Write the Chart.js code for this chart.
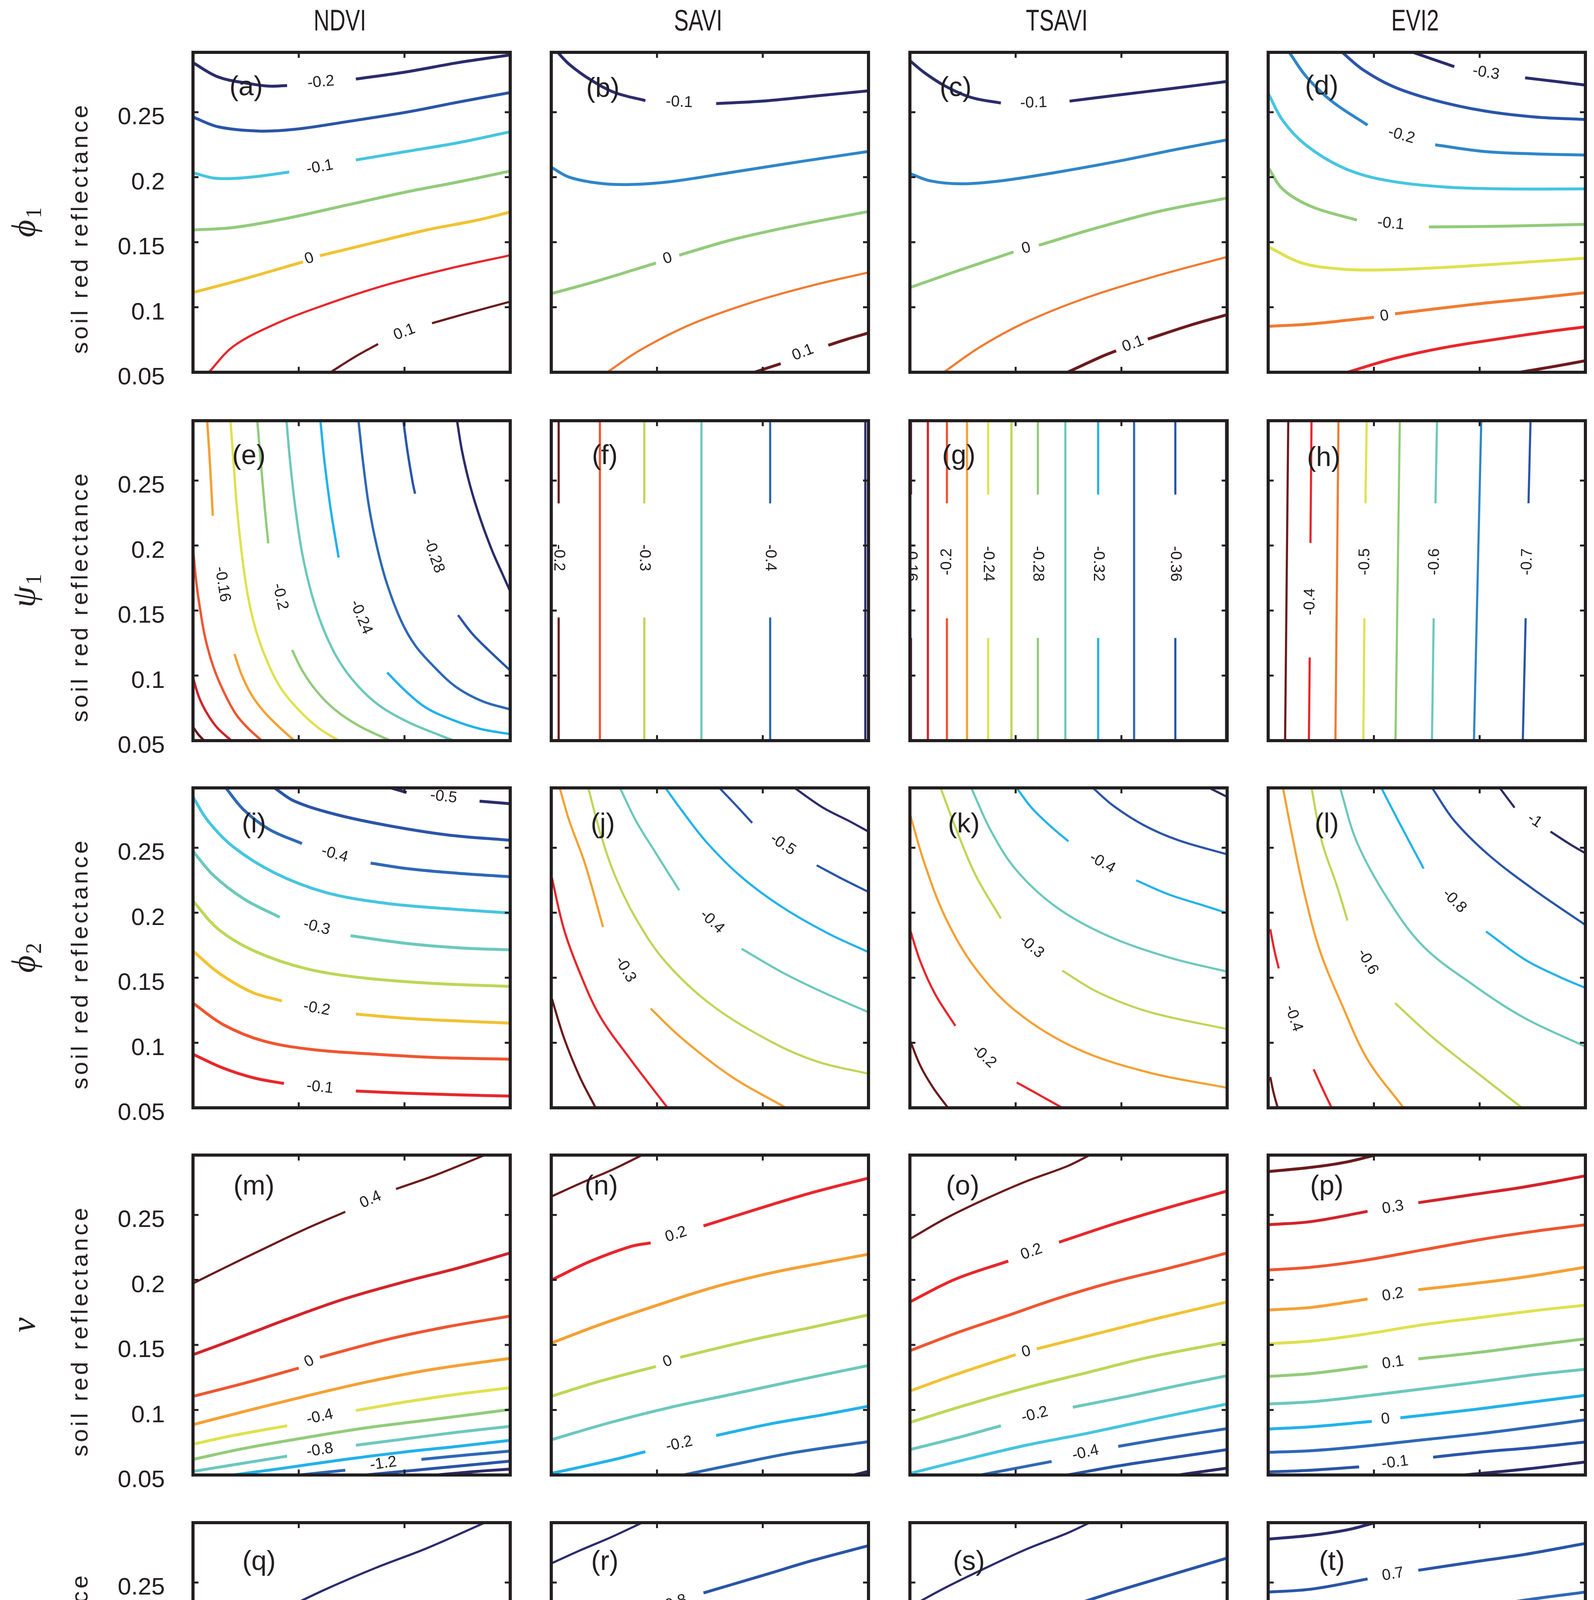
<!DOCTYPE html>
<html>
<head>
<meta charset="utf-8">
<title>Contour sensitivity of vegetation indices</title>
<script src="https://cdn.jsdelivr.net/npm/chart.js"></script>
<style>
html,body{margin:0;padding:0;background:#ffffff;}
body{width:4080px;height:4993px;position:relative;overflow:hidden;font-family:"Liberation Sans",Arial,sans-serif;color:#231f20;}
canvas{position:absolute;}
.t{position:absolute;white-space:nowrap;line-height:1;color:#231f20;}
</style>
</head>
<body>
<script>
// ---------------- DATA ----------------
const columnTitles = ['NDVI', 'SAVI', 'TSAVI', 'EVI2'];
const rowSymbolPrefix = ['', '', '', '', '1 \u2212 '];
const rowSymbolVar = ['\u03D5', '\u03C8', '\u03D5', '\u03BD', '\u03BD'];
const rowSymbolSub = ['1', '1', '2', '', ''];
const yAxisTitle = 'soil red reflectance';
const xAxisTitle = 'LAI';
const xTickValues = [1, 2, 3, 4];
const xTickLabels = ['1', '2', '3', '4'];
const yTickValues = [0.05, 0.1, 0.15, 0.2, 0.25];
const yTickLabels = ['0.05', '0.1', '0.15', '0.2', '0.25'];
const xRange = [1, 4];
const yRange = [0.05, 0.296];
const panelLetters = ['a','b','c','d','e','f','g','h','i','j','k','l','m','n','o','p','q','r','s','t'];

// contour lines: each contour = list of visible pieces, each piece = [LAI, soil red reflectance] points
const contoursA = [
 [[[1.0,0.288],[1.24,0.277],[1.53,0.272],[1.72,0.270],[1.89,0.2705]],[[2.54,0.2755],[3.02,0.281],[3.5,0.288],[4.0,0.294]]],
 [[[1.0,0.2462],[1.24,0.2387],[1.62,0.2355],[1.96,0.2368],[2.44,0.2425],[3.02,0.25],[3.5,0.2576],[4.0,0.2651]]],
 [[[1.0,0.2034],[1.2,0.1993],[1.4,0.1991],[1.65,0.201],[1.91,0.204]],[[2.54,0.2132],[3.02,0.2198],[3.5,0.2264],[4.0,0.2349]]],
 [[[1.0,0.1594],[1.38,0.1613],[1.86,0.1679],[2.44,0.1783],[3.02,0.1887],[3.5,0.1962],[4.0,0.2047]]],
 [[[1.0,0.1113],[1.48,0.1217],[2.04,0.1349]],[[2.2,0.1396],[2.63,0.1481],[3.21,0.1594],[3.69,0.167],[4.0,0.1732]]],
 [[[1.15,0.05],[1.38,0.0698],[1.77,0.0868],[2.25,0.1019],[2.82,0.117],[3.4,0.1293],[4.0,0.14]]],
 [[[2.3,0.05],[2.54,0.0623],[2.75,0.0717]],[[3.26,0.0877],[3.59,0.0953],[4.0,0.1043]]]
];
const labelsA = [[0,2.21,0.273,'-0.2'],[2,2.2,0.2076,'-0.1'],[4,2.1,0.1374,'0'],[6,3.0,0.0808,'0.1']];

const contoursB = [
 [[[1.06,0.296],[1.17,0.2868],[1.36,0.2755],[1.6,0.2651],[1.89,0.2589]],[[2.56,0.2566],[3.0,0.2585],[3.48,0.2623],[4.0,0.2664]]],
 [[[1.0,0.2076],[1.17,0.2],[1.46,0.1953],[1.75,0.1944],[2.13,0.1966],[2.71,0.2038],[3.38,0.2123],[4.0,0.2198]]],
 [[[1.0,0.1104],[1.46,0.1208],[1.99,0.134]],[[2.21,0.14],[2.71,0.1519],[3.28,0.1623],[4.0,0.1736]]],
 [[[1.53,0.05],[1.84,0.067],[2.32,0.0868],[2.9,0.1038],[3.48,0.117],[4.0,0.1268]]],
 [[[2.92,0.05],[3.17,0.0566]],[[3.62,0.0708],[3.8,0.0755],[4.0,0.0802]]]
];
const labelsB = [[0,2.21,0.2576,'-0.1'],[2,2.1,0.1374,'0'],[4,3.38,0.0651,'0.1']];

const contoursC = [
 [[[1.0,0.2896],[1.14,0.2802],[1.34,0.2698],[1.58,0.2613],[1.86,0.257]],[[2.51,0.2585],[2.97,0.2632],[3.45,0.2679],[4.0,0.2736]]],
 [[[1.0,0.2028],[1.19,0.1972],[1.48,0.1949],[1.86,0.1972],[2.39,0.2038],[2.97,0.2123],[3.54,0.2217],[4.0,0.2287]]],
 [[[1.0,0.1151],[1.43,0.1274],[1.98,0.1425]],[[2.22,0.1477],[2.78,0.1613],[3.35,0.1736],[4.0,0.184]]],
 [[[1.32,0.05],[1.67,0.0698],[2.1,0.0887],[2.68,0.1076],[3.35,0.1245],[4.0,0.1387]]],
 [[[2.49,0.05],[2.82,0.0623],[2.95,0.0665]],[[3.25,0.0755],[3.64,0.0859],[4.0,0.0943]]]
];
const labelsC = [[0,2.17,0.257,'-0.1'],[2,2.1,0.1453,'0'],[4,3.11,0.0717,'0.1']];

const contoursD = [
 [[[2.37,0.296],[2.56,0.2906],[2.76,0.285]],[[3.43,0.2764],[3.72,0.2736],[4.0,0.2708]]],
 [[[1.7,0.296],[1.89,0.283],[2.18,0.2698],[2.56,0.2595],[3.04,0.251],[3.52,0.2463],[4.0,0.2444]]],
 [[[1.2,0.296],[1.36,0.2774],[1.6,0.2585],[1.94,0.24]],[[2.58,0.2249],[3.04,0.2198],[3.52,0.2179],[4.0,0.217]]],
 [[[1.0,0.2645],[1.14,0.2434],[1.36,0.2245],[1.7,0.2076],[2.08,0.1981],[2.66,0.1925],[3.24,0.191],[4.0,0.191]]],
 [[[1.0,0.2075],[1.14,0.1906],[1.41,0.1774],[1.84,0.167]],[[2.52,0.1617],[3.24,0.1623],[4.0,0.1638]]],
 [[[1.0,0.1465],[1.32,0.134],[1.7,0.1293],[2.08,0.1287],[2.66,0.1306],[3.24,0.1336],[4.0,0.1377]]],
 [[[1.0,0.0853],[1.41,0.0872],[2.0,0.0923]],[[2.2,0.095],[2.95,0.1023],[3.52,0.107],[4.0,0.1112]]],
 [[[1.75,0.05],[2.18,0.0604],[2.66,0.0689],[3.24,0.0764],[3.72,0.0821],[4.0,0.0849]]],
 [[[3.38,0.05],[3.72,0.0547],[4.0,0.0589]]]
];
const labelsD = [[0,3.06,0.2802,'-0.3'],[2,2.26,0.2321,'-0.2'],[4,2.16,0.1642,'-0.1'],[6,2.1,0.0932,'0']];

const contoursE = [
 [[[1.0,0.0606],[1.048,0.055],[1.105,0.05]]],
 [[[1.0,0.0984],[1.057,0.0834],[1.134,0.0708],[1.23,0.0598],[1.363,0.05]]],
 [[[1.0,0.1986],[1.029,0.1733],[1.067,0.1512],[1.115,0.1292],[1.191,0.1071],[1.287,0.0882],[1.402,0.0708],[1.517,0.0598],[1.65,0.05]]],
 [[[1.134,0.296],[1.153,0.2727],[1.172,0.2459],[1.187,0.223]],[[1.392,0.1166],[1.459,0.1008],[1.555,0.085],[1.67,0.0724],[1.803,0.0614],[1.957,0.05]]],
 [[[1.354,0.296],[1.383,0.2648],[1.411,0.2332],[1.459,0.1954],[1.517,0.1623],[1.593,0.1355],[1.689,0.1134],[1.823,0.0913],[1.995,0.074],[2.186,0.0598],[2.377,0.05]]],
 [[[1.608,0.296],[1.641,0.2648],[1.679,0.2285],[1.712,0.2017]],[[1.937,0.1197],[2.033,0.1039],[2.167,0.0882],[2.339,0.074],[2.569,0.0614],[2.865,0.05]]],
 [[[1.884,0.296],[1.918,0.2648],[1.966,0.2301],[2.033,0.1938],[2.129,0.1607],[2.243,0.1339],[2.377,0.1118],[2.55,0.0929],[2.76,0.0771],[3.028,0.0645],[3.353,0.0535],[3.468,0.05]]],
 [[[2.205,0.296],[2.243,0.2648],[2.301,0.2285],[2.377,0.1907]],[[2.836,0.1024],[3.009,0.0882],[3.2,0.0755],[3.449,0.0661],[3.717,0.059],[4.0,0.055]]],
 [[[2.565,0.296],[2.607,0.2648],[2.664,0.2301],[2.741,0.1986],[2.836,0.1702],[2.97,0.1418],[3.104,0.1229],[3.276,0.1071],[3.487,0.0913],[3.736,0.0803],[4.0,0.074]]],
 [[[2.989,0.296],[3.028,0.2727],[3.076,0.249],[3.1,0.2399]],[[3.506,0.1465],[3.64,0.1323],[3.793,0.1197],[4.0,0.1039]]],
 [[[3.497,0.296],[3.544,0.2727],[3.621,0.2459],[3.717,0.2206],[3.832,0.1954],[3.927,0.178],[4.0,0.1647]]]
];
const labelsE = [[3,1.277,0.1702,'-0.16'],[5,1.823,0.1607,'-0.2'],[7,2.588,0.1449,'-0.24'],[9,3.276,0.1922,'-0.28']];

const contoursF = [
 [[[1.07,0.296],[1.07,0.2324]],[[1.07,0.1447],[1.07,0.05]]],
 [[[1.46,0.296],[1.46,0.05]]],
 [[[1.88,0.296],[1.88,0.2324]],[[1.88,0.1447],[1.88,0.05]]],
 [[[2.42,0.296],[2.42,0.05]]],
 [[[3.07,0.296],[3.07,0.2324]],[[3.07,0.1447],[3.07,0.05]]],
 [[[3.97,0.296],[3.97,0.05]]]
];
const labelsF = [[0,1.07,0.1906,'-0.2'],[2,1.88,0.1906,'-0.3'],[4,3.07,0.1906,'-0.4']];

const contoursG = [
 [[[1.01,0.296],[1.01,0.2392]],[[1.01,0.1289],[1.01,0.05]]],
 [[[1.17,0.296],[1.17,0.05]]],
 [[[1.35,0.05],[1.35,0.1441]],[[1.35,0.2325],[1.35,0.296]]],
 [[[1.54,0.296],[1.54,0.05]]],
 [[[1.74,0.296],[1.74,0.2392]],[[1.74,0.1289],[1.74,0.05]]],
 [[[1.96,0.296],[1.96,0.05]]],
 [[[2.21,0.296],[2.21,0.2392]],[[2.21,0.1289],[2.21,0.05]]],
 [[[2.47,0.296],[2.47,0.05]]],
 [[[2.78,0.296],[2.78,0.2392]],[[2.78,0.1289],[2.78,0.05]]],
 [[[3.12,0.296],[3.12,0.05]]],
 [[[3.51,0.296],[3.51,0.2392]],[[3.51,0.1289],[3.51,0.05]]],
 [[[3.99,0.296],[3.99,0.05]]]
];
const labelsG = [[0,1.01,0.186,'-0.16'],[2,1.35,0.1875,'-0.2'],[4,1.74,0.186,'-0.24'],[6,2.21,0.186,'-0.28'],[8,2.78,0.186,'-0.32'],[10,3.51,0.186,'-0.36']];

const contoursH = [
 [[[1.16,0.05],[1.19,0.296]]],
 [[[1.385,0.05],[1.393,0.1139]],[[1.40,0.202],[1.41,0.296]]],
 [[[1.636,0.05],[1.665,0.296]]],
 [[[1.90,0.05],[1.91,0.1441]],[[1.92,0.2325],[1.932,0.296]]],
 [[[2.204,0.05],[2.245,0.296]]],
 [[[2.549,0.05],[2.565,0.1441]],[[2.582,0.2325],[2.597,0.296]]],
 [[[2.946,0.05],[3.015,0.296]]],
 [[[3.408,0.05],[3.435,0.1441]],[[3.462,0.2325],[3.481,0.296]]]
];
const labelsH = [[1,1.397,0.1568,'-0.4'],[3,1.915,0.1875,'-0.5'],[5,2.573,0.1875,'-0.6'],[7,3.45,0.1875,'-0.7']];

const contoursI = [
 [[[2.87,0.296],[3.02,0.2925]],[[3.71,0.2858],[4.0,0.2838]]],
 [[[1.77,0.296],[1.96,0.2858],[2.34,0.2758],[2.82,0.2674],[3.4,0.2599],[4.0,0.2557]]],
 [[[1.31,0.296],[1.48,0.2791],[1.72,0.2641],[2.03,0.2532]],[[2.68,0.2382],[3.02,0.234],[3.5,0.2304],[4.0,0.2277]]],
 [[[1.0,0.2891],[1.14,0.2708],[1.38,0.2507],[1.77,0.2307],[2.25,0.2157],[2.82,0.2073],[3.4,0.2031],[4.0,0.1998]]],
 [[[1.0,0.2474],[1.19,0.229],[1.48,0.2107],[1.82,0.1965]],[[2.49,0.1823],[3.02,0.1764],[3.5,0.1731],[4.0,0.1714]]],
 [[[1.0,0.209],[1.24,0.1873],[1.58,0.1706],[2.06,0.1572],[2.63,0.1497],[3.3,0.1455],[4.0,0.1434]]],
 [[[1.0,0.1706],[1.24,0.1539],[1.56,0.1388],[1.84,0.1322]],[[2.54,0.1221],[3.02,0.1188],[3.5,0.1168],[4.0,0.1151]]],
 [[[1.0,0.1305],[1.29,0.1138],[1.67,0.1013],[2.15,0.0946],[2.73,0.0912],[3.3,0.0887],[4.0,0.0874]]],
 [[[1.0,0.0912],[1.29,0.0804],[1.58,0.0729],[1.86,0.0687]],[[2.54,0.0629],[3.02,0.0612],[3.5,0.06],[4.0,0.059]]]
];
const labelsI = [[0,3.37,0.2891,'-0.5'],[2,2.34,0.2449,'-0.4'],[4,2.17,0.1889,'-0.3'],[6,2.17,0.1263,'-0.2'],[8,2.2,0.0657,'-0.1']];

const contoursJ = [
 [[[3.3,0.296],[3.57,0.2808],[3.81,0.2708],[4.0,0.2624]]],
 [[[2.59,0.296],[2.73,0.2841],[2.9,0.2691]],[[3.51,0.2365],[3.76,0.2257],[4.0,0.216]]],
 [[[2.08,0.296],[2.23,0.2791],[2.47,0.2541],[2.8,0.2274],[3.19,0.204],[3.62,0.184],[4.0,0.1697]]],
 [[[1.65,0.296],[1.8,0.2708],[1.99,0.2457],[2.21,0.2173]],[[2.8,0.1723],[3.19,0.1539],[3.57,0.1388],[4.0,0.1235]]],
 [[[1.35,0.296],[1.46,0.2624],[1.6,0.229],[1.8,0.1956],[2.08,0.1623],[2.52,0.1288],[3.09,0.1004],[3.52,0.0854],[4.0,0.0762]]],
 [[[1.08,0.296],[1.17,0.2708],[1.32,0.2374],[1.49,0.189]],[[1.94,0.1263],[2.23,0.1038],[2.71,0.0737],[3.22,0.05]]],
 [[[1.0,0.229],[1.12,0.1873],[1.27,0.1539],[1.46,0.1205],[1.75,0.0871],[2.1,0.05]]],
 [[[1.0,0.1355],[1.12,0.1038],[1.27,0.0737],[1.42,0.05]]]
];
const labelsJ = [[1,3.19,0.2524,'-0.5'],[3,2.52,0.1931,'-0.4'],[5,1.7,0.1564,'-0.3']];

const contoursK = [
 [[[3.83,0.296],[4.0,0.2891]]],
 [[[2.73,0.296],[2.92,0.2825],[3.21,0.2674],[3.54,0.2557],[4.0,0.2449]]],
 [[[2.01,0.296],[2.15,0.2808],[2.34,0.2658],[2.5,0.2549]],[[3.14,0.2249],[3.45,0.214],[3.74,0.2065],[4.0,0.1998]]],
 [[[1.58,0.296],[1.77,0.2624],[2.01,0.2324],[2.39,0.204],[2.87,0.1823],[3.45,0.1656],[4.0,0.1547]]],
 [[[1.29,0.296],[1.43,0.2658],[1.62,0.229],[1.86,0.1956]],[[2.44,0.1555],[2.78,0.1388],[3.26,0.1238],[4.0,0.1105]]],
 [[[1.0,0.276],[1.14,0.2374],[1.34,0.1956],[1.62,0.1572],[2.01,0.1238],[2.58,0.0954],[3.26,0.0771],[4.0,0.0654]]],
 [[[1.0,0.1873],[1.1,0.1622],[1.24,0.1372],[1.43,0.113]],[[2.01,0.0695],[2.25,0.0587],[2.44,0.05]]],
 [[[1.0,0.1021],[1.1,0.0821],[1.22,0.0654],[1.36,0.05]]]
];
const labelsK = [[2,2.82,0.2382,'-0.4'],[4,2.15,0.1739,'-0.3'],[6,1.7,0.0896,'-0.2']];

const contoursL = [
 [[[3.19,0.296],[3.33,0.2808]],[[3.67,0.2624],[3.86,0.2524],[4.0,0.2457]]],
 [[[2.55,0.296],[2.76,0.2708],[3.09,0.2441],[3.52,0.2173],[4.0,0.1906]]],
 [[[2.07,0.296],[2.23,0.2708],[2.47,0.234]],[[3.06,0.1856],[3.43,0.1639],[3.76,0.1505],[4.0,0.1422]]],
 [[[1.68,0.296],[1.84,0.2541],[2.13,0.2107],[2.47,0.1739],[2.95,0.1439],[3.43,0.1188],[4.0,0.0971]]],
 [[[1.41,0.296],[1.51,0.2541],[1.65,0.2207],[1.75,0.194]],[[2.2,0.1305],[2.56,0.1038],[3.0,0.0754],[3.4,0.05]]],
 [[[1.14,0.296],[1.24,0.2541],[1.35,0.2124],[1.49,0.1706],[1.7,0.1288],[1.94,0.0871],[2.28,0.05]]],
 [[[1.02,0.1873],[1.06,0.1706],[1.1,0.1572]],[[1.43,0.0796],[1.51,0.0654],[1.6,0.05]]],
 [[[1.02,0.0737],[1.05,0.062],[1.09,0.05]]]
];
const labelsL = [[0,3.52,0.2708,'-1'],[2,2.76,0.209,'-0.8'],[4,1.94,0.1622,'-0.6'],[6,1.24,0.1188,'-0.4']];

const contoursM = [
 [[[1.0,0.1973],[1.29,0.209],[1.67,0.224],[2.06,0.239],[2.44,0.2524]],[[2.92,0.2699],[3.3,0.2808],[3.76,0.296]]],
 [[[1.0,0.1425],[1.38,0.1539],[1.86,0.1689],[2.44,0.1856],[3.02,0.199],[3.5,0.209],[4.0,0.2207]]],
 [[[1.0,0.1105],[1.48,0.1205],[2.0,0.1322]],[[2.2,0.1405],[2.82,0.1539],[3.4,0.1639],[4.0,0.1722]]],
 [[[1.0,0.0887],[1.48,0.0988],[2.06,0.1105],[2.63,0.1213],[3.21,0.1305],[3.69,0.1363],[4.0,0.1397]]],
 [[[1.0,0.0737],[1.38,0.0804],[1.89,0.0879]],[[2.54,0.0996],[3.02,0.1063],[3.5,0.1121],[4.0,0.1171]]],
 [[[1.0,0.062],[1.48,0.0704],[2.06,0.0787],[2.63,0.0862],[3.21,0.0921],[3.69,0.0971],[4.0,0.1004]]],
 [[[1.0,0.0528],[1.38,0.0578],[1.89,0.0645]],[[2.54,0.0729],[3.02,0.0779],[3.5,0.0829],[4.0,0.0874]]],
 [[[1.38,0.05],[1.86,0.0553],[2.44,0.062],[3.02,0.0679],[3.5,0.072],[4.0,0.0767]]],
 [[[2.01,0.05],[2.44,0.0537]],[[3.16,0.062],[3.59,0.0654],[4.0,0.0684]]],
 [[[2.63,0.05],[3.21,0.0545],[4.0,0.0607]]],
 [[[3.3,0.05],[3.69,0.0528],[4.0,0.0545]]]
];
const labelsM = [[0,2.68,0.2616,'0.4'],[2,2.1,0.1372,'0'],[4,2.2,0.0946,'-0.4'],[6,2.2,0.069,'-0.8'],[8,2.8,0.0587,'-1.2']];

const contoursN = [
 [[[1.0,0.2641],[1.27,0.2741],[1.56,0.2841],[1.86,0.296]]],
 [[[1.0,0.1998],[1.36,0.214],[1.75,0.2257],[1.94,0.2285]],[[2.44,0.2415],[3.0,0.2558],[3.48,0.2674],[4.0,0.2783]]],
 [[[1.0,0.1514],[1.46,0.1656],[1.94,0.1789],[2.52,0.194],[3.09,0.2056],[3.57,0.2132],[4.0,0.2198]]],
 [[[1.0,0.1105],[1.46,0.1221],[1.99,0.1335]],[[2.22,0.1405],[2.9,0.1539],[3.48,0.1639],[4.0,0.1731]]],
 [[[1.0,0.0771],[1.56,0.0904],[2.13,0.1021],[2.71,0.1121],[3.38,0.1238],[4.0,0.1342]]],
 [[[1.0,0.0512],[1.56,0.0612],[1.89,0.0679]],[[2.56,0.0804],[3.09,0.0896],[3.57,0.0963],[4.0,0.1029]]],
 [[[2.25,0.05],[2.71,0.0578],[3.28,0.067],[4.0,0.0757]]],
 [[[3.86,0.05],[4.0,0.0528]]]
];
const labelsN = [[1,2.18,0.2349,'0.2'],[3,2.1,0.1372,'0'],[5,2.21,0.0737,'-0.2']];

const contoursO = [
 [[[1.0,0.2315],[1.34,0.2474],[1.72,0.2624],[2.1,0.2758],[2.49,0.2875],[2.7,0.296]]],
 [[[1.0,0.1831],[1.43,0.2006],[1.93,0.2145]],[[2.41,0.229],[2.97,0.2441],[3.45,0.2558],[4.0,0.2683]]],
 [[[1.0,0.1455],[1.43,0.1589],[1.91,0.1722],[2.39,0.1856],[2.87,0.1973],[3.45,0.209],[4.0,0.2207]]],
 [[[1.0,0.1146],[1.43,0.1272],[2.0,0.1425]],[[2.2,0.147],[2.78,0.1589],[3.35,0.1706],[4.0,0.1831]]],
 [[[1.0,0.0904],[1.53,0.1038],[2.1,0.1171],[2.68,0.1288],[3.26,0.1405],[4.0,0.1522]]],
 [[[1.0,0.0695],[1.53,0.0804],[1.86,0.0879]],[[2.54,0.1021],[3.06,0.1105],[3.54,0.1188],[4.0,0.1263]]],
 [[[1.0,0.0512],[1.53,0.062],[2.1,0.0729],[2.68,0.0821],[3.35,0.0938],[4.0,0.1046]]],
 [[[1.67,0.05],[2.01,0.0553],[2.34,0.0604]],[[2.97,0.072],[3.45,0.0787],[4.0,0.0857]]],
 [[[2.49,0.05],[2.97,0.057],[3.45,0.0629],[4.0,0.0695]]],
 [[[3.54,0.05],[3.78,0.0528],[4.0,0.0553]]]
];
const labelsO = [[1,2.15,0.2215,'0.2'],[3,2.1,0.1447,'0'],[5,2.18,0.0963,'-0.2'],[7,2.66,0.067,'-0.4']];

const contoursP = [
 [[[1.0,0.2833],[1.41,0.2866],[1.75,0.2908],[2.01,0.296]]],
 [[[1.0,0.2424],[1.41,0.2449],[1.94,0.2527]],[[2.42,0.2594],[2.95,0.2658],[3.43,0.2716],[4.0,0.28]]],
 [[[1.0,0.2076],[1.41,0.2098],[1.89,0.2148],[2.47,0.2232],[3.04,0.2315],[3.52,0.2374],[4.0,0.2424]]],
 [[[1.0,0.1769],[1.41,0.1789],[1.94,0.1853]],[[2.42,0.1925],[2.95,0.1973],[3.43,0.2023],[4.0,0.2098]]],
 [[[1.0,0.1509],[1.41,0.153],[1.89,0.158],[2.47,0.1656],[3.04,0.1714],[3.52,0.1764],[4.0,0.1806]]],
 [[[1.0,0.1258],[1.41,0.128],[1.94,0.1335]],[[2.42,0.1393],[2.95,0.1439],[3.43,0.1489],[4.0,0.1547]]],
 [[[1.0,0.1046],[1.41,0.1063],[1.89,0.1105],[2.47,0.1163],[3.04,0.1221],[3.52,0.1272],[4.0,0.1313]]],
 [[[1.0,0.0854],[1.41,0.0871],[1.98,0.0912]],[[2.25,0.094],[2.95,0.1004],[3.43,0.1054],[4.0,0.1113]]],
 [[[1.0,0.0674],[1.41,0.0687],[1.89,0.072],[2.47,0.0771],[3.04,0.0821],[3.52,0.0871],[4.0,0.0924]]],
 [[[1.0,0.0523],[1.41,0.0537],[1.86,0.0562]],[[2.56,0.0637],[3.04,0.0679],[3.52,0.0712],[4.0,0.0754]]],
 [[[2.85,0.05],[3.43,0.0545],[4.0,0.06]]]
];
const labelsP = [[1,2.18,0.2557,'0.3'],[3,2.18,0.1886,'0.2'],[5,2.18,0.1363,'0.1'],[7,2.11,0.0929,'0'],[9,2.2,0.0595,'-0.1']];

const contoursQ = [
 [[[1.0,0.1965],[1.38,0.2112],[1.82,0.2279],[2.25,0.2446],[2.73,0.2613],[3.21,0.2763],[3.76,0.296]]],
 [[[1.0,0.1427],[1.38,0.1544],[1.96,0.1722]],[[2.44,0.1848],[3.02,0.1978],[3.5,0.2087],[4.0,0.2203]]],
 [[[1.0,0.1101],[1.48,0.121],[2.06,0.1343],[2.63,0.146],[3.21,0.1577],[3.69,0.1661],[4.0,0.1724]]],
 [[[1.0,0.0884],[1.48,0.0984],[1.96,0.1072]],[[2.49,0.1168],[3.02,0.1252],[3.5,0.1318],[4.0,0.1402]]],
 [[[1.0,0.0734],[1.58,0.0826],[2.15,0.0909],[2.73,0.0984],[3.3,0.1051],[4.0,0.1168]]],
 [[[1.0,0.0612],[1.5,0.069],[1.95,0.0752]],[[2.46,0.0829],[3.0,0.09],[3.5,0.095],[4.0,0.0999]]],
 [[[1.0,0.0522],[1.5,0.059],[2.0,0.0655],[2.5,0.072],[3.0,0.078],[3.5,0.083],[4.0,0.0868]]],
 [[[1.37,0.05],[1.8,0.0555],[2.27,0.0608]],[[2.46,0.0627],[3.0,0.069],[3.5,0.073],[4.0,0.0763]]],
 [[[2.01,0.05],[2.5,0.056],[3.0,0.061],[3.5,0.065],[4.0,0.0682]]],
 [[[2.57,0.05],[2.94,0.0533]],[[3.45,0.0569],[4.0,0.0602]]],
 [[[3.28,0.05],[3.6,0.0522],[4.0,0.0542]]]
];
const labelsQ = [[1,2.18,0.1778,'0.8'],[3,2.18,0.1118,'1.2'],[5,2.2,0.079,'1.6'],[7,2.36,0.062,'2'],[9,3.18,0.0548,'2.4']];

const contoursR = [
 [[[1.0,0.2646],[1.27,0.2746],[1.56,0.2846],[1.86,0.296]]],
 [[[1.0,0.1998],[1.36,0.2137],[1.75,0.2254],[1.94,0.2285]],[[2.44,0.242],[3.0,0.2554],[3.48,0.2671],[4.0,0.2783]]],
 [[[1.0,0.151],[1.46,0.1661],[1.94,0.1786],[2.52,0.1936],[3.09,0.2053],[3.57,0.2128],[4.0,0.2195]]],
 [[[1.0,0.1101],[1.46,0.1218],[1.99,0.134]],[[2.22,0.1405],[2.9,0.1535],[3.48,0.1636],[4.0,0.1727]]],
 [[[1.0,0.0776],[1.56,0.0901],[2.13,0.1026],[2.71,0.1126],[3.38,0.1243],[4.0,0.1343]]],
 [[[1.0,0.05],[1.56,0.0617],[1.89,0.0684]],[[2.52,0.0792],[3.09,0.0892],[3.57,0.0959],[4.0,0.1026]]],
 [[[2.25,0.05],[2.71,0.0584],[3.28,0.0675],[4.0,0.0756]]],
 [[[3.84,0.05],[4.0,0.0533]]]
];
const labelsR = [[1,2.18,0.2345,'0.8'],[3,2.1,0.1368,'1'],[5,2.18,0.0734,'1.2']];

const contoursS = [
 [[[1.0,0.2312],[1.34,0.2462],[1.72,0.2613],[2.1,0.2755],[2.49,0.288],[2.7,0.296]]],
 [[[1.0,0.1828],[1.43,0.2003],[1.93,0.2145]],[[2.41,0.229],[2.97,0.2437],[3.45,0.2554],[4.0,0.2688]]],
 [[[1.0,0.1452],[1.43,0.1586],[1.91,0.1719],[2.39,0.1853],[2.87,0.197],[3.45,0.2095],[4.0,0.2212]]],
 [[[1.0,0.1143],[1.43,0.1268],[2.0,0.1425]],[[2.2,0.1475],[2.78,0.1586],[3.35,0.1702],[4.0,0.1828]]],
 [[[1.0,0.0892],[1.53,0.1034],[2.1,0.1168],[2.68,0.1293],[3.26,0.1402],[4.0,0.1519]]],
 [[[1.0,0.0684],[1.53,0.0801],[1.86,0.0876]],[[2.54,0.1009],[3.06,0.1101],[3.54,0.1185],[4.0,0.126]]],
 [[[1.0,0.0517],[1.53,0.0625],[2.1,0.0734],[2.68,0.0834],[3.35,0.0943],[4.0,0.1043]]],
 [[[1.67,0.05],[2.01,0.0555],[2.34,0.0605]],[[2.92,0.0717],[3.45,0.0792],[4.0,0.0859]]],
 [[[2.49,0.05],[2.97,0.057],[3.45,0.0629],[4.0,0.069]]],
 [[[3.54,0.05],[3.78,0.0533],[4.0,0.0555]]]
];
const labelsS = [[1,2.15,0.222,'0.8'],[3,2.1,0.1444,'1'],[5,2.18,0.0959,'1.2'],[7,2.63,0.0675,'1.4']];

const contoursT = [
 [[[1.0,0.2833],[1.41,0.2863],[1.75,0.2905],[2.01,0.296]]],
 [[[1.0,0.2426],[1.41,0.2449],[1.94,0.2527]],[[2.42,0.2594],[2.95,0.2659],[3.43,0.2716],[4.0,0.28]]],
 [[[1.0,0.2078],[1.41,0.2098],[1.89,0.2148],[2.47,0.2232],[3.04,0.2315],[3.52,0.2375],[4.0,0.2426]]],
 [[[1.0,0.1764],[1.41,0.1786],[1.94,0.1853]],[[2.42,0.1925],[2.95,0.197],[3.43,0.2025],[4.0,0.2092]]],
 [[[1.0,0.1502],[1.41,0.1524],[1.89,0.1577],[2.47,0.1652],[3.04,0.1711],[3.52,0.1761],[4.0,0.1803]]],
 [[[1.0,0.1257],[1.41,0.1277],[1.94,0.1335]],[[2.42,0.1393],[2.95,0.1435],[3.43,0.1485],[4.0,0.1544]]],
 [[[1.0,0.1043],[1.41,0.106],[1.89,0.1101],[2.47,0.116],[3.04,0.1218],[3.52,0.1268],[4.0,0.131]]],
 [[[1.0,0.0856],[1.41,0.0872],[2.0,0.0915]],[[2.25,0.094],[2.95,0.1009],[3.43,0.1056],[4.0,0.111]]],
 [[[1.0,0.0675],[1.41,0.0689],[1.89,0.0722],[2.47,0.0772],[3.04,0.0822],[3.52,0.0872],[4.0,0.0923]]],
 [[[1.0,0.0525],[1.41,0.0538],[1.86,0.0562]],[[2.56,0.0634],[3.04,0.0675],[3.52,0.0712],[4.0,0.0751]]],
 [[[2.85,0.05],[3.43,0.0545],[4.0,0.06]]]
];
const labelsT = [[1,2.18,0.2562,'0.7'],[3,2.18,0.1886,'0.8'],[5,2.18,0.136,'0.9'],[7,2.11,0.0934,'1'],[9,2.2,0.0595,'1.1']];

// ---------------- STYLE ----------------
const TEXT = '#231f20';
const FONT = 'Liberation Sans';
const palette = {
  K:'#6b1b1e', D:'#d3232a', E:'#e8262b', R:'#ef5530', P:'#f07b31', O:'#f5a033', Q:'#f1c232',
  Y:'#dfe14f', L:'#bcd757', G:'#92cb7a', T:'#6cc8bc', C:'#45c5e0', S:'#22b2ea', M:'#2f86c9',
  H:'#2e68b5', B:'#2a55a8', N:'#2b2c6c'
};
const panelColors = ['NBCGQEK','NMGPK','NMGPK','NBMCGYPEK',
                     'KDROYGTSHBN','KRLTHN','KDROYLGTSHBN','KEPYGTMB',
                     'NBHCTLQRE','NBSTLOEK','NBSTLOEK','NBSTLOEK',
                     'KDROYGTSHBN','KEOLTSHN','KERQLTCHBN','KDROYGTSHBN',
                     'NBHSTGYORDK','NBSTLOEK','NBHCTLQREK','NBHSTGYORDK'];
const panelLineWidth = [7.5,7.5,7.5,7.5, 6,5.5,5.5,5.5, 7.5,5.5,5.5,5.5, 7.5,7.5,7.5,7.5, 7.5,7.5,7.5,7.5];
const panelThinLines = [[5,6],[3],[3],[], [],[],[],[], [],[],[],[], [0],[0],[0],[], [0],[0],[0],[]];
const THIN = 5.5;
const letterOffsets = [[136,91],[132,95],[117,93],[137,89],[143,92],[137,92],[125,92],[142,97],
                       [156,95],[132,95],[138,95],[150,95],[156,82],[128,82],[135,82],[150,82],
                       [169,102],[137,102],[151,102],[163,102]];

const COL_LEFT = [494, 1411, 2329, 3246];
const ROW_TOP = [134, 1077, 2017, 2957, 3898];
const PW = 812, PH = 819;
const ML = 330, MT = 130, MR = 90, MB = 170;

const panels = [
  {contours: contoursA, labels: labelsA}, {contours: contoursB, labels: labelsB},
  {contours: contoursC, labels: labelsC}, {contours: contoursD, labels: labelsD},
  {contours: contoursE, labels: labelsE}, {contours: contoursF, labels: labelsF},
  {contours: contoursG, labels: labelsG}, {contours: contoursH, labels: labelsH},
  {contours: contoursI, labels: labelsI}, {contours: contoursJ, labels: labelsJ},
  {contours: contoursK, labels: labelsK}, {contours: contoursL, labels: labelsL},
  {contours: contoursM, labels: labelsM}, {contours: contoursN, labels: labelsN},
  {contours: contoursO, labels: labelsO}, {contours: contoursP, labels: labelsP},
  {contours: contoursQ, labels: labelsQ}, {contours: contoursR, labels: labelsR},
  {contours: contoursS, labels: labelsS}, {contours: contoursT, labels: labelsT}
];

// ---------------- RENDER ----------------
Chart.defaults.font.family = FONT;
Chart.defaults.color = TEXT;

function makeDecor(panel, letter, off) {
  return {
    id: 'contourDecor',
    afterDatasetsDraw(chart) {
      const ctx = chart.ctx, xs = chart.scales.x, ys = chart.scales.y, a = chart.chartArea;
      ctx.save();
      ctx.beginPath();
      ctx.rect(a.left, a.top, a.right - a.left, a.bottom - a.top);
      ctx.clip();
      ctx.fillStyle = TEXT;
      ctx.font = '40px "' + FONT + '"';
      ctx.textAlign = 'center';
      ctx.textBaseline = 'middle';
      panel.labels.forEach(([ci, lx, ly, txt]) => {
        const pieces = panel.contours[ci];
        let ang = 0;
        if (pieces.length > 1) {
          const e = pieces[0][pieces[0].length - 1], s = pieces[1][0];
          ang = Math.atan2(ys.getPixelForValue(s[1]) - ys.getPixelForValue(e[1]),
                           xs.getPixelForValue(s[0]) - xs.getPixelForValue(e[0]));
        }
        if (ang > Math.PI / 2 + 0.03) ang -= Math.PI;
        if (ang < -Math.PI / 2 - 0.03) ang += Math.PI;
        ctx.save();
        ctx.translate(xs.getPixelForValue(lx), ys.getPixelForValue(ly));
        ctx.rotate(ang);
        ctx.fillText(txt, 0, 0);
        ctx.restore();
      });
      ctx.restore();
    },
    afterDraw(chart) {
      const ctx = chart.ctx, xs = chart.scales.x, ys = chart.scales.y, a = chart.chartArea;
      ctx.save();
      ctx.strokeStyle = TEXT;
      ctx.lineWidth = 5;
      ctx.beginPath();
      xTickValues.forEach(v => {
        if (v <= xRange[0] || v >= xRange[1]) return;
        const px = xs.getPixelForValue(v);
        ctx.moveTo(px, a.top); ctx.lineTo(px, a.top + 14);
        ctx.moveTo(px, a.bottom); ctx.lineTo(px, a.bottom - 14);
      });
      yTickValues.forEach(v => {
        if (v <= yRange[0] || v >= yRange[1]) return;
        const py = ys.getPixelForValue(v);
        ctx.moveTo(a.left, py); ctx.lineTo(a.left + 14, py);
        ctx.moveTo(a.right, py); ctx.lineTo(a.right - 14, py);
      });
      ctx.stroke();
      ctx.lineWidth = 8;
      ctx.strokeRect(a.left, a.top, a.right - a.left, a.bottom - a.top);
      ctx.fillStyle = TEXT;
      ctx.font = '70px "' + FONT + '"';
      ctx.textAlign = 'center';
      ctx.textBaseline = 'middle';
      ctx.fillText('(' + letter + ')', a.left + off[0], a.top + off[1]);
      ctx.restore();
    }
  };
}

for (let r = 0; r < 5; r++) {
  for (let c = 0; c < 4; c++) {
    const idx = r * 4 + c;
    const panel = panels[idx];
    const datasets = [];
    panel.contours.forEach((pieces, ci) => {
      const color = palette[panelColors[idx][ci]];
      const w = panelThinLines[idx].includes(ci) ? THIN : panelLineWidth[idx];
      pieces.forEach(piece => {
        datasets.push({
          data: piece.map(([x, y]) => ({x, y})),
          showLine: true, borderColor: color, backgroundColor: color,
          borderWidth: w, pointRadius: 0, pointHoverRadius: 0, tension: 0.35, fill: false
        });
      });
    });
    const cv = document.createElement('canvas');
    const W = ML + PW + MR, H = MT + PH + MB;
    cv.width = W; cv.height = H;
    cv.style.width = W + 'px'; cv.style.height = H + 'px';
    cv.style.left = (COL_LEFT[c] - ML) + 'px';
    cv.style.top = (ROW_TOP[r] - MT) + 'px';
    document.body.appendChild(cv);
    new Chart(cv, {
      type: 'scatter',
      data: { datasets },
      options: {
        responsive: false, animation: false, devicePixelRatio: 1, events: [],
        layout: { padding: { left: 0, top: MT, right: MR, bottom: 0 } },
        plugins: { legend: { display: false }, tooltip: { enabled: false }, title: { display: false } },
        scales: {
          x: {
            type: 'linear', position: 'bottom', min: xRange[0], max: xRange[1], bounds: 'data',
            grid: { display: false }, border: { display: false },
            afterBuildTicks: s => { s.ticks = xTickValues.map(v => ({ value: v })); },
            afterFit: s => { s.height = MB; },
            ticks: { display: r === 4, autoSkip: false, maxRotation: 0, padding: 48, color: TEXT,
                     font: { family: FONT, size: 62 }, callback: (v, i) => xTickLabels[i] }
          },
          y: {
            type: 'linear', position: 'left', min: yRange[0], max: yRange[1], bounds: 'data',
            grid: { display: false }, border: { display: false },
            afterBuildTicks: s => { s.ticks = yTickValues.map(v => ({ value: v })); },
            afterFit: s => { s.width = ML; },
            ticks: { display: c === 0, autoSkip: false, padding: 64, labelOffset: 14, color: TEXT,
                     font: { family: FONT, size: 62 }, callback: (v, i) => yTickLabels[i] }
          }
        }
      },
      plugins: [makeDecor(panel, panelLetters[idx], letterOffsets[idx])]
    });
  }
}

// ---------------- OUTER TEXT ----------------
function addText(html, x, y, style) {
  const d = document.createElement('div');
  d.className = 't';
  d.innerHTML = html;
  Object.assign(d.style, style);
  d.style.left = x + 'px';
  d.style.top = y + 'px';
  document.body.appendChild(d);
}
for (let c = 0; c < 4; c++) {
  addText(columnTitles[c], COL_LEFT[c] + PW / 2 - 30, 52,
    { fontSize: '76px', transform: 'translate(-50%,-50%) scaleX(0.74)' });
  addText(xAxisTitle, COL_LEFT[c] + PW / 2 - 18, 4942,
    { fontSize: '65px', transform: 'translate(-50%,-50%) scaleX(0.83)' });
}
for (let r = 0; r < 5; r++) {
  const cy = ROW_TOP[r] + PH / 2;
  addText(yAxisTitle, 204, cy + 40,
    { fontSize: '60px', letterSpacing: '7px', transform: 'translate(-50%,-50%) rotate(-90deg)' });
  let html = '';
  if (rowSymbolPrefix[r]) html += '<span style="font-style:normal">' + rowSymbolPrefix[r] + '</span>';
  html += '<i>' + rowSymbolVar[r] + '</i>';
  if (rowSymbolSub[r]) html += '<span style="font-style:normal;font-size:56px;position:relative;top:16px;margin-left:4px">' + rowSymbolSub[r] + '</span>';
  addText(html, 60, cy + 25,
    { fontSize: '86px', fontFamily: '"Liberation Serif","DejaVu Serif",serif', transform: 'translate(-50%,-50%) rotate(-90deg)' });
}
</script>
</body>
</html>
